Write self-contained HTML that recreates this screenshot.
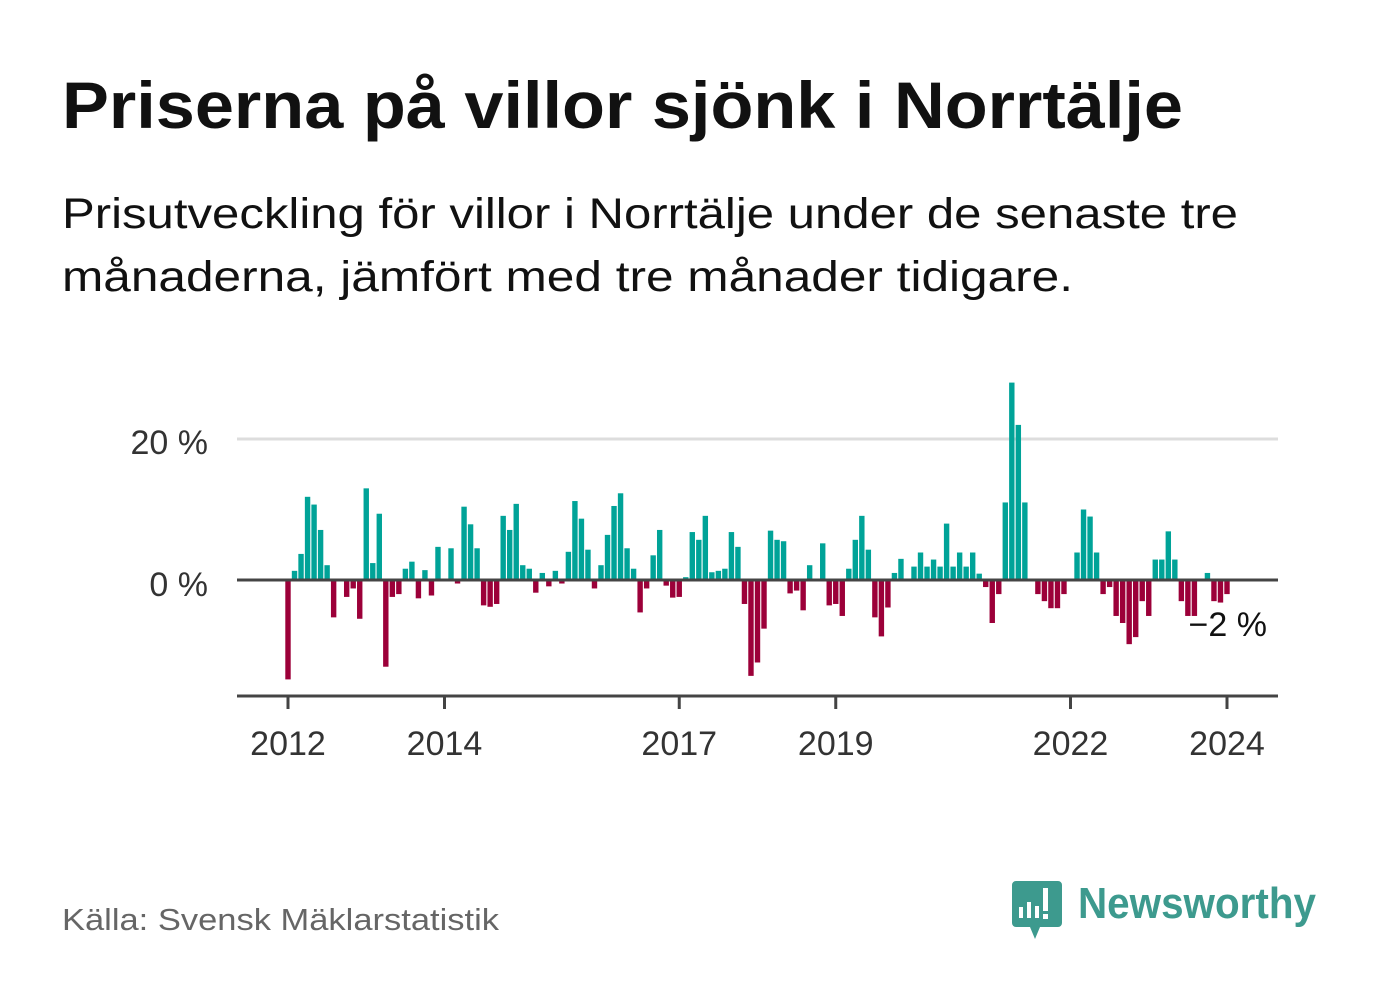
<!DOCTYPE html>
<html><head><meta charset="utf-8"><style>
body{margin:0;background:#fff;}
svg{display:block;font-family:"Liberation Sans",sans-serif;}
</style></head><body>
<svg id="chart" width="1382" height="999" viewBox="0 0 1382 999">
<rect width="1382" height="999" fill="#fff"/>
<text x="62" y="128" font-size="66" font-weight="bold" fill="#111" textLength="1121" lengthAdjust="spacingAndGlyphs">Priserna på villor sjönk i Norrtälje</text>
<text x="62" y="228" font-size="43" fill="#111" textLength="1176" lengthAdjust="spacingAndGlyphs">Prisutveckling för villor i Norrtälje under de senaste tre</text>
<text x="62" y="291" font-size="43" fill="#111" textLength="1011" lengthAdjust="spacingAndGlyphs">månaderna, jämfört med tre månader tidigare.</text>
<line x1="237" x2="1278" y1="439" y2="439" stroke="#ddd" stroke-width="3"/>
<text x="208" y="454" font-size="34" fill="#333" text-anchor="end">20 %</text>
<text x="208" y="596" font-size="34" fill="#333" text-anchor="end">0 %</text>
<g id="bars"></g>
<line x1="237" x2="1278" y1="580" y2="580" stroke="#444" stroke-width="3"/>
<line x1="237" x2="1278" y1="696" y2="696" stroke="#444" stroke-width="3"/>
<g id="xticks"></g>
<text x="1267" y="636" font-size="34" fill="#111" text-anchor="end">−2 %</text>
<text x="62" y="930" font-size="31" fill="#666" textLength="437" lengthAdjust="spacingAndGlyphs">Källa: Svensk Mäklarstatistik</text>
<g>
<path d="M1016 881 h42 a4 4 0 0 1 4 4 v38 a4 4 0 0 1 -4 4 h-18 l-5 12 l-5 -12 h-14 a4 4 0 0 1 -4 -4 v-38 a4 4 0 0 1 4 -4z" fill="#3d9a8e"/>
<rect x="1019" y="907" width="4" height="11" fill="#fff"/>
<rect x="1027" y="902" width="4" height="16" fill="#fff"/>
<rect x="1035" y="906" width="4" height="12" fill="#fff"/>
<rect x="1043" y="888" width="5" height="23" fill="#fff"/>
<rect x="1043" y="914" width="5" height="5" fill="#fff"/>
<text x="1078" y="918" font-size="44" font-weight="bold" fill="#3d9a8e" textLength="238" lengthAdjust="spacingAndGlyphs">Newsworthy</text>
</g>
</svg>
<script>
const values = [-14.1,1.3,3.7,11.8,10.7,7.1,2.1,-5.3,0,-2.4,-1.2,-5.5,
13.0,2.4,9.4,-12.3,-2.4,-2.0,1.6,2.6,-2.6,1.4,-2.2,4.7,
0,4.5,-0.5,10.4,7.9,4.5,-3.6,-3.8,-3.4,9.1,7.1,10.8,
2.1,1.6,-1.8,1.0,-0.9,1.3,-0.5,4.0,11.2,8.7,4.3,-1.2,
2.1,6.4,10.5,12.3,4.5,1.6,-4.6,-1.2,3.5,7.1,-0.8,-2.5,
-2.4,0.4,6.8,5.7,9.1,1.1,1.3,1.6,6.8,4.7,-3.4,-13.6,
-11.7,-6.9,7.0,5.7,5.5,-1.9,-1.5,-4.3,2.1,0,5.2,-3.6,
-3.4,-5.1,1.6,5.7,9.1,4.3,-5.3,-8.0,-3.9,1.0,3.0,0,
1.9,3.9,1.9,2.9,1.9,8.0,1.9,3.9,1.9,3.9,0.9,-1.0,
-6.1,-2.0,11.0,28.0,22.0,11.0,0,-2.0,-3.0,-4.0,-4.0,-2.0,
0,3.9,10.0,9.0,3.9,-2.0,-1.0,-5.1,-6.1,-9.1,-8.1,-3.0,
-5.1,2.9,2.9,6.9,2.9,-3.0,-5.1,-5.1,0,1.0,-3.0,-3.2,-2.0];
const startYear = 2012;
const tickYears = [2012,2014,2017,2019,2022,2024];
const NS='http://www.w3.org/2000/svg';
function xScale(m){return 288 + m*(1227-288)/144;}
function yScale(v){return 580 - v*(580-439)/20;}
const bw = 5.4;
const g = document.getElementById('bars');
values.forEach((v,i)=>{
  if(v===0) return;
  const r=document.createElementNS(NS,'rect');
  const y0=yScale(0), y1=yScale(v);
  r.setAttribute('x', xScale(i)-bw/2);
  r.setAttribute('y', Math.min(y0,y1));
  r.setAttribute('width', bw);
  r.setAttribute('height', Math.abs(y1-y0));
  r.setAttribute('fill', v>0 ? '#00a398' : '#9c0039');
  
  
  g.appendChild(r);
});
const xt=document.getElementById('xticks');
tickYears.forEach(yr=>{
  const x=xScale((yr-startYear)*12);
  const l=document.createElementNS(NS,'line');
  l.setAttribute('x1',x);l.setAttribute('x2',x);
  l.setAttribute('y1',696);l.setAttribute('y2',709);
  l.setAttribute('stroke','#444');l.setAttribute('stroke-width','3');
  
  
  xt.appendChild(l);
  const t=document.createElementNS(NS,'text');
  t.setAttribute('x',x);t.setAttribute('y',755);
  t.setAttribute('font-size','34');t.setAttribute('fill','#333');
  t.setAttribute('text-anchor','middle');
  t.textContent=yr;
  
  
  xt.appendChild(t);
});
</script>
</body></html>
